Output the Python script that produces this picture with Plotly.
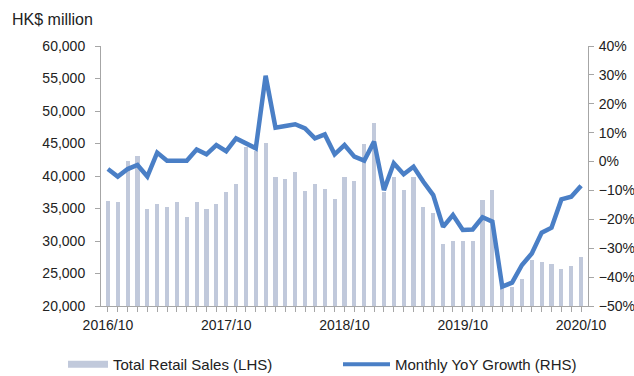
import plotly.graph_objects as go

months = list(range(49))  # 2016/10 .. 2020/10, monthly
tick_labels = ["2016/10", "2017/10", "2018/10", "2019/10", "2020/10"]

sales = [
    36200, 35950, 42350, 43100, 34920, 35700, 35180, 35950, 33640, 35950, 34920, 35700,
    37490, 38770, 44410, 43800, 45130, 39800, 39540, 40570, 37740, 38770, 38000, 36460,
    39800, 39230, 44870, 48100, 37600, 39800, 37850, 39900, 35180, 34360, 29540, 30000,
    30000, 30000, 36310, 37850, 22800, 22900, 24100, 27080, 26820, 26460, 25690, 26150,
    27490,
]
growth = [
    -2.6, -5.2, -2.6, -1.2, -5.2, 3.1, 0.3, 0.3, 0.3, 4.2, 2.5, 5.7,
    3.6, 8.0, 6.5, 4.6, 29.7, 11.7, 12.3, 12.9, 11.5, 8.0, 9.4, 2.5,
    5.7, 1.7, 0.3, 6.9, -9.9, -0.6, -4.4, -1.8, -7.0, -11.6, -22.6, -18.5,
    -23.7, -23.5, -19.3, -20.8, -43.3, -41.9, -35.8, -31.8, -24.6, -22.9, -13.1, -12.2,
    -8.4,
]
growth_frac = [g / 100 for g in growth]

BAR_C = "#c1c9db"
LINE_C = "#4a7fc6"
AX_C = "#a6a6a6"
FONT = "Liberation Sans, Arial, sans-serif"

tickvals = months
ticktext = [tick_labels[i // 12] if i % 12 == 0 else "" for i in months]

fig = go.Figure()
fig.add_trace(go.Bar(x=months, y=sales, marker=dict(color=BAR_C, line=dict(width=0)),
                     width=0.42, showlegend=False, yaxis="y"))
fig.add_trace(go.Scatter(x=months, y=growth_frac, mode="lines",
                         line=dict(color=LINE_C, width=4.5), showlegend=False, yaxis="y2"))
# legend entries
fig.add_trace(go.Scatter(x=[None], y=[None], mode="lines", name="Total Retail Sales (LHS)",
                         line=dict(color=BAR_C, width=7), legend="legend"))
fig.add_trace(go.Scatter(x=[None], y=[None], mode="lines", name="Monthly YoY Growth (RHS)",
                         line=dict(color=LINE_C, width=4), legend="legend2"))

legend_common = dict(orientation="h", xref="container", yref="container",
                     xanchor="left", y=1 - 348 / 376, yanchor="top",
                     font=dict(size=15), bgcolor="rgba(0,0,0,0)")

fig.update_layout(
    width=634, height=376,
    margin=dict(l=101, r=46, t=46, b=70, autoexpand=False),
    paper_bgcolor="white", plot_bgcolor="white",
    font=dict(family=FONT, size=14, color="#222222"),
    bargap=0,
    xaxis=dict(range=[-0.7, 48.7], tickvals=tickvals, ticktext=ticktext,
               showline=True, linecolor=AX_C, linewidth=1, ticks="outside",
               ticklen=5, tickcolor=AX_C, showgrid=False, zeroline=False,
               tickangle=0, ticklabelstandoff=1, automargin=False),
    yaxis=dict(range=[20000, 60000], dtick=5000, tickformat=",d",
               showline=True, linecolor=AX_C, linewidth=1, ticks="outside",
               ticklen=5, tickcolor=AX_C, showgrid=False, zeroline=False,
               ticklabelstandoff=7, automargin=False),
    yaxis2=dict(range=[-0.5, 0.4], dtick=0.1, tickformat=".0%", overlaying="y",
                side="right", showline=True, linecolor=AX_C, linewidth=1,
                ticks="outside", ticklen=5, tickcolor=AX_C, showgrid=False,
                zeroline=False, ticklabelstandoff=2, automargin=False),
    legend=dict(x=63 / 634, itemwidth=40, **legend_common),
    legend2=dict(x=338 / 634, itemwidth=47, **legend_common),
    annotations=[dict(text="HK$ million", x=(10 - 101) / 487, y=(306 - 20) / 260,
                      xref="paper", yref="paper", xanchor="left", yanchor="middle",
                      showarrow=False, font=dict(size=16))],
)

fig.write_html("out.html")
